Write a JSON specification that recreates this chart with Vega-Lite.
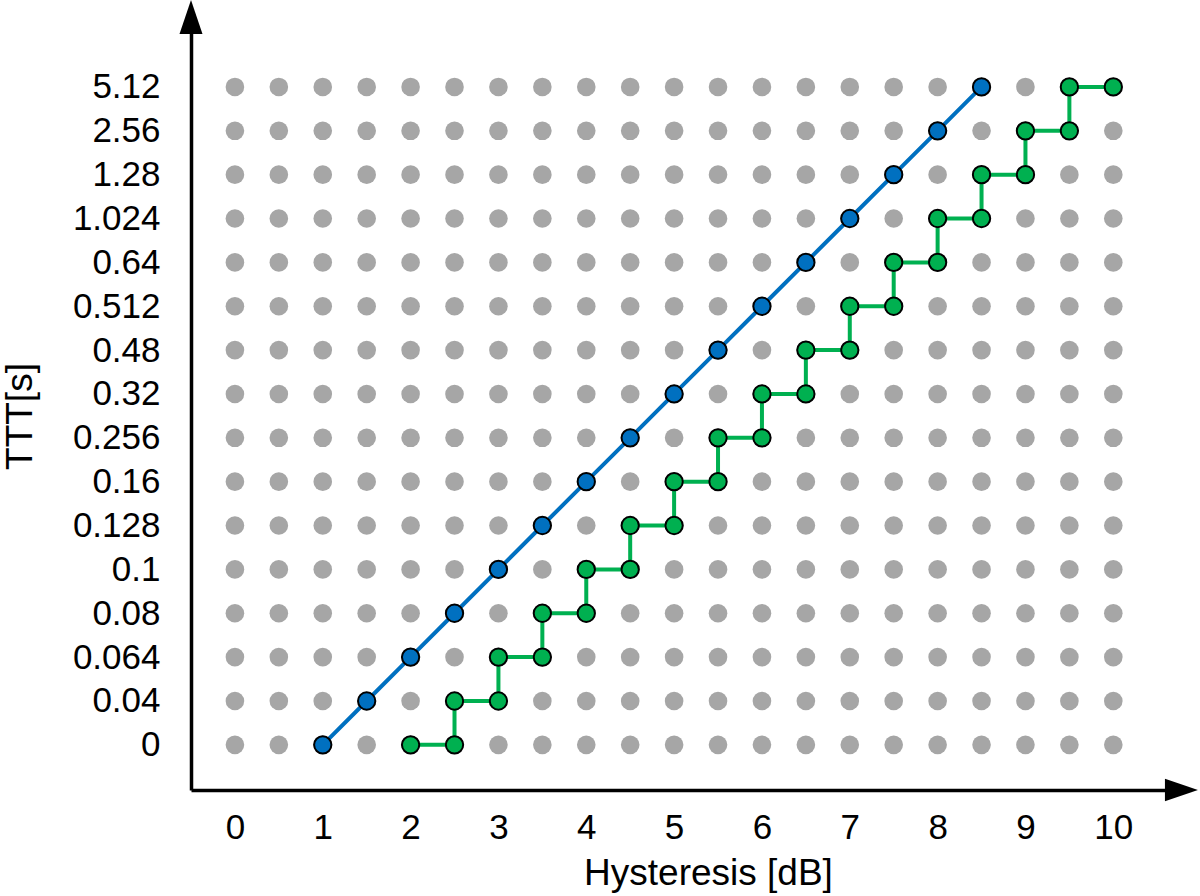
{
  "$schema": "https://vega.github.io/schema/vega-lite/v6.json",
  "width": 975,
  "height": 757,
  "autosize": {"type": "none"},
  "padding": {"left": 191, "top": 33, "right": 34, "bottom": 106},
  "background": "white",
  "config": {
    "view": {"stroke": null},
    "font": "Liberation Sans",
    "axis": {
      "domainColor": "black",
      "domainWidth": 3.5,
      "ticks": false,
      "grid": false,
      "labelFont": "Liberation Sans",
      "labelFontSize": 35,
      "labelColor": "black",
      "titleFont": "Liberation Sans",
      "titleFontSize": 37,
      "titleFontWeight": "normal",
      "titleColor": "black"
    }
  },
  "datasets": {
    "grid": [
      {"h": 0, "k": [0,1,2,3,4,5,6,7,8,9,10,11,12,13,14,15]},
      {"h": 0.5, "k": [0,1,2,3,4,5,6,7,8,9,10,11,12,13,14,15]},
      {"h": 1, "k": [0,1,2,3,4,5,6,7,8,9,10,11,12,13,14,15]},
      {"h": 1.5, "k": [0,1,2,3,4,5,6,7,8,9,10,11,12,13,14,15]},
      {"h": 2, "k": [0,1,2,3,4,5,6,7,8,9,10,11,12,13,14,15]},
      {"h": 2.5, "k": [0,1,2,3,4,5,6,7,8,9,10,11,12,13,14,15]},
      {"h": 3, "k": [0,1,2,3,4,5,6,7,8,9,10,11,12,13,14,15]},
      {"h": 3.5, "k": [0,1,2,3,4,5,6,7,8,9,10,11,12,13,14,15]},
      {"h": 4, "k": [0,1,2,3,4,5,6,7,8,9,10,11,12,13,14,15]},
      {"h": 4.5, "k": [0,1,2,3,4,5,6,7,8,9,10,11,12,13,14,15]},
      {"h": 5, "k": [0,1,2,3,4,5,6,7,8,9,10,11,12,13,14,15]},
      {"h": 5.5, "k": [0,1,2,3,4,5,6,7,8,9,10,11,12,13,14,15]},
      {"h": 6, "k": [0,1,2,3,4,5,6,7,8,9,10,11,12,13,14,15]},
      {"h": 6.5, "k": [0,1,2,3,4,5,6,7,8,9,10,11,12,13,14,15]},
      {"h": 7, "k": [0,1,2,3,4,5,6,7,8,9,10,11,12,13,14,15]},
      {"h": 7.5, "k": [0,1,2,3,4,5,6,7,8,9,10,11,12,13,14,15]},
      {"h": 8, "k": [0,1,2,3,4,5,6,7,8,9,10,11,12,13,14,15]},
      {"h": 8.5, "k": [0,1,2,3,4,5,6,7,8,9,10,11,12,13,14,15]},
      {"h": 9, "k": [0,1,2,3,4,5,6,7,8,9,10,11,12,13,14,15]},
      {"h": 9.5, "k": [0,1,2,3,4,5,6,7,8,9,10,11,12,13,14,15]},
      {"h": 10, "k": [0,1,2,3,4,5,6,7,8,9,10,11,12,13,14,15]}
    ],
    "blue": [
      {"h": 1, "k": 0}, {"h": 1.5, "k": 1}, {"h": 2, "k": 2}, {"h": 2.5, "k": 3},
      {"h": 3, "k": 4}, {"h": 3.5, "k": 5}, {"h": 4, "k": 6}, {"h": 4.5, "k": 7},
      {"h": 5, "k": 8}, {"h": 5.5, "k": 9}, {"h": 6, "k": 10}, {"h": 6.5, "k": 11},
      {"h": 7, "k": 12}, {"h": 7.5, "k": 13}, {"h": 8, "k": 14}, {"h": 8.5, "k": 15}
    ],
    "green": [
      {"o": 1, "h": 2, "k": 0}, {"o": 2, "h": 2.5, "k": 0},
      {"o": 3, "h": 2.5, "k": 1}, {"o": 4, "h": 3, "k": 1},
      {"o": 5, "h": 3, "k": 2}, {"o": 6, "h": 3.5, "k": 2},
      {"o": 7, "h": 3.5, "k": 3}, {"o": 8, "h": 4, "k": 3},
      {"o": 9, "h": 4, "k": 4}, {"o": 10, "h": 4.5, "k": 4},
      {"o": 11, "h": 4.5, "k": 5}, {"o": 12, "h": 5, "k": 5},
      {"o": 13, "h": 5, "k": 6}, {"o": 14, "h": 5.5, "k": 6},
      {"o": 15, "h": 5.5, "k": 7}, {"o": 16, "h": 6, "k": 7},
      {"o": 17, "h": 6, "k": 8}, {"o": 18, "h": 6.5, "k": 8},
      {"o": 19, "h": 6.5, "k": 9}, {"o": 20, "h": 7, "k": 9},
      {"o": 21, "h": 7, "k": 10}, {"o": 22, "h": 7.5, "k": 10},
      {"o": 23, "h": 7.5, "k": 11}, {"o": 24, "h": 8, "k": 11},
      {"o": 25, "h": 8, "k": 12}, {"o": 26, "h": 8.5, "k": 12},
      {"o": 27, "h": 8.5, "k": 13}, {"o": 28, "h": 9, "k": 13},
      {"o": 29, "h": 9, "k": 14}, {"o": 30, "h": 9.5, "k": 14},
      {"o": 31, "h": 9.5, "k": 15}, {"o": 32, "h": 10, "k": 15}
    ],
    "arrows": [
      {"h": -0.5, "k": 16.595, "dir": "up"},
      {"h": 10.776, "k": -1.03, "dir": "right"}
    ]
  },
  "encoding": {
    "x": {
      "field": "h", "type": "quantitative",
      "scale": {"domain": [-0.5, 10.6], "nice": false, "zero": false},
      "axis": {"values": [0,1,2,3,4,5,6,7,8,9,10], "title": "Hysteresis [dB]", "labelPadding": 20, "titlePadding": 10, "titleX": 517, "labelFlush": false}
    },
    "y": {
      "field": "k", "type": "quantitative",
      "scale": {"domain": [-1.03, 16.23], "nice": false, "zero": false},
      "axis": {
        "values": [0,1,2,3,4,5,6,7,8,9,10,11,12,13,14,15],
        "labelExpr": "['0','0.04','0.064','0.08','0.1','0.128','0.16','0.256','0.32','0.48','0.512','0.64','1.024','1.28','2.56','5.12'][datum.value]",
        "title": "TTT[s]",
        "labelPadding": 31,
        "titlePadding": 33,
        "titleY": 383,
        "labelFlush": false
      }
    }
  },
  "layer": [
    {
      "data": {"name": "grid"},
      "transform": [{"flatten": ["k"]}],
      "mark": {"type": "point", "filled": true, "shape": "circle", "size": 346, "color": "#a6a6a6", "opacity": 1}
    },
    {
      "data": {"name": "blue"},
      "mark": {"type": "line", "color": "#0070c0", "strokeWidth": 4}
    },
    {
      "data": {"name": "green"},
      "mark": {"type": "line", "color": "#00b050", "strokeWidth": 4},
      "encoding": {"order": {"field": "o"}}
    },
    {
      "data": {"name": "blue"},
      "mark": {"type": "point", "filled": true, "shape": "circle", "size": 300, "fill": "#0070c0", "stroke": "black", "strokeWidth": 2, "opacity": 1}
    },
    {
      "data": {"name": "green"},
      "mark": {"type": "point", "filled": true, "shape": "circle", "size": 300, "fill": "#00b050", "stroke": "black", "strokeWidth": 2, "opacity": 1}
    },
    {
      "data": {"name": "arrows"},
      "transform": [{"filter": "datum.dir == 'up'"}],
      "mark": {"type": "point", "filled": true, "shape": "M0,-1L-0.676,1L0.676,1Z", "size": 1156, "color": "black", "opacity": 1}
    },
    {
      "data": {"name": "arrows"},
      "transform": [{"filter": "datum.dir == 'right'"}],
      "mark": {"type": "point", "filled": true, "shape": "M1,0L-1,-0.676L-1,0.676Z", "size": 1089, "color": "black", "opacity": 1}
    }
  ]
}
